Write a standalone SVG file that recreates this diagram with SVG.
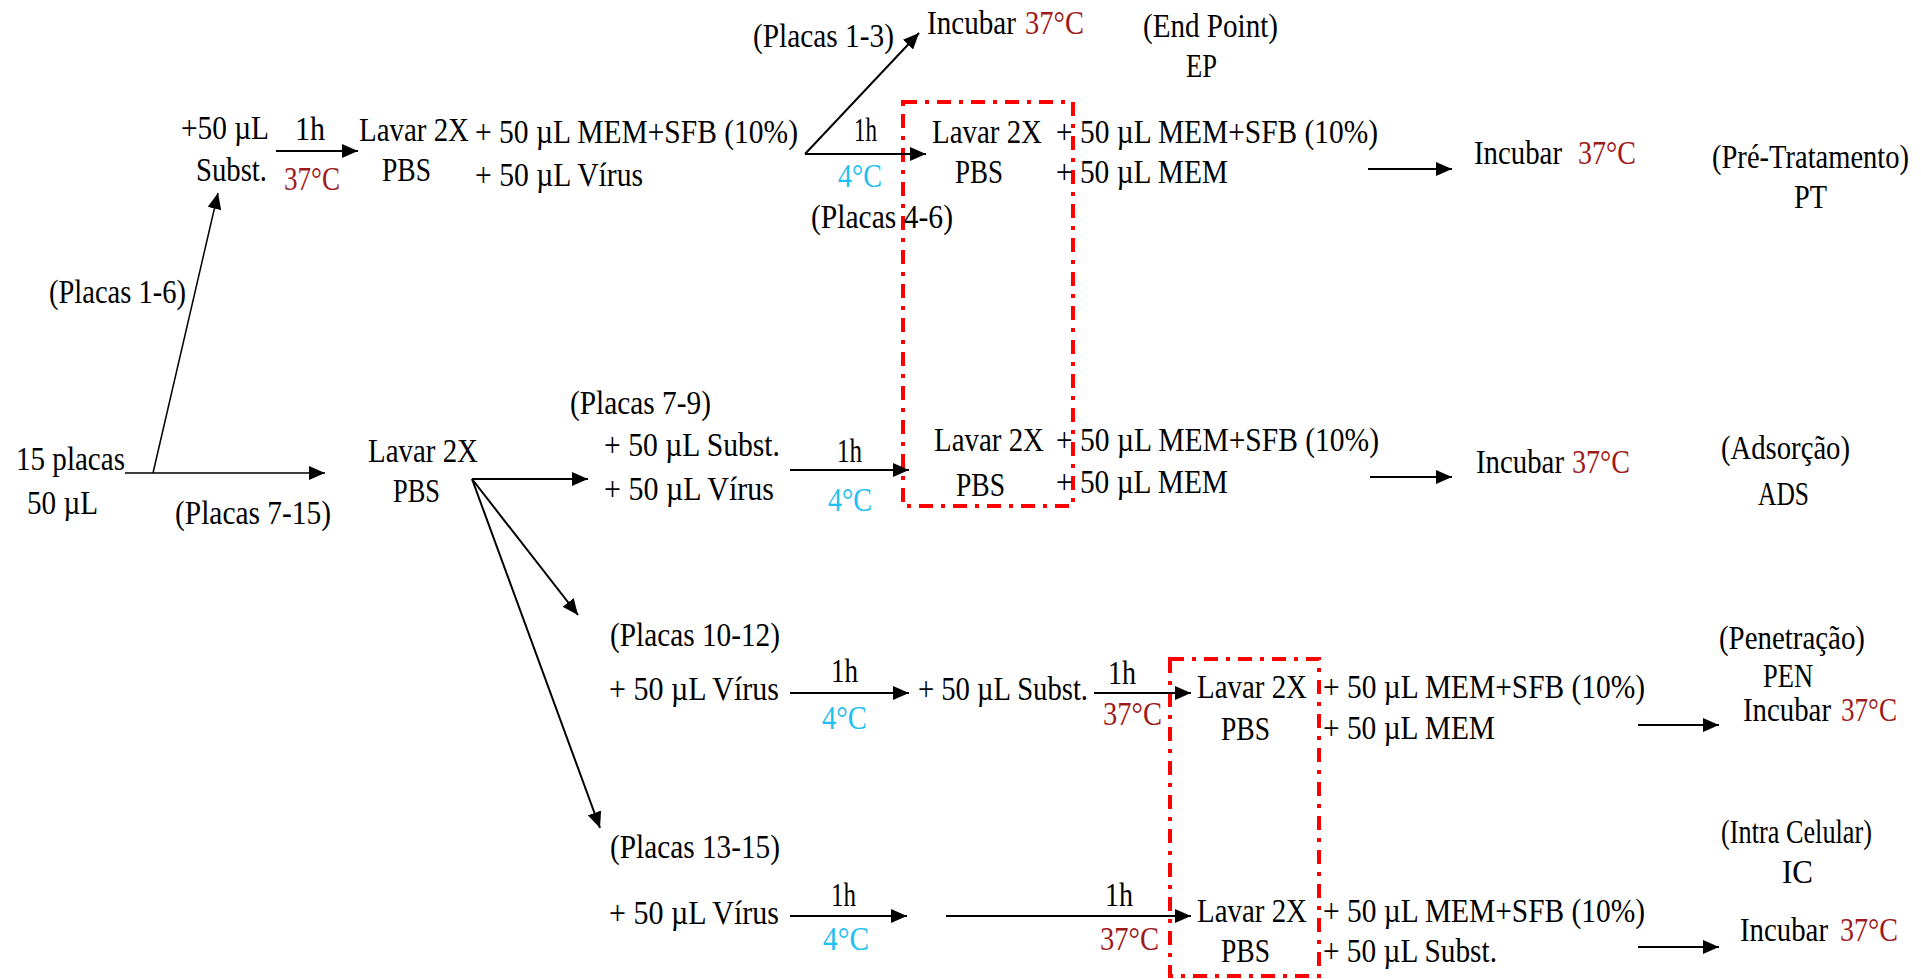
<svg xmlns="http://www.w3.org/2000/svg" width="1921" height="979" viewBox="0 0 1921 979">
<style>
text{font-family:"Liberation Serif","Times New Roman",serif;font-size:33px;fill:#000}
.r{fill:#9E1B1B}
.c{fill:#1CC0F2}
.ln{stroke:#000;stroke-width:2;fill:none}
.thin{stroke:#000;stroke-width:1.5;fill:none}
.box{fill:none;stroke:#FF0000;stroke-width:4;stroke-dasharray:14 8 4 8}
</style>
<defs>
<marker id="ah" markerUnits="userSpaceOnUse" markerWidth="16" markerHeight="14" refX="16" refY="7" orient="auto">
<path d="M0,0 L16,7 L0,14 z" fill="#000"/>
</marker>
</defs>
<rect width="1921" height="979" fill="#fff"/>

<g id="boxes">
<rect class="box" x="903" y="102" width="170" height="404"/>
<rect class="box" x="1170" y="659" width="149" height="317"/>
</g>

<g id="connectors">
<path class="thin" d="M125,473 H325" marker-end="url(#ah)"/>
<path class="thin" d="M153,473 L218,193" marker-end="url(#ah)"/>
<path class="ln" d="M276,151 H358" marker-end="url(#ah)"/>
<path class="ln" d="M805,154 L919,33" marker-end="url(#ah)"/>
<path class="ln" d="M805,154 H926" marker-end="url(#ah)"/>
<path class="ln" d="M1368,169 H1452" marker-end="url(#ah)"/>
<path class="ln" d="M472,479 H588" marker-end="url(#ah)"/>
<path class="ln" d="M472,479 L578,615" marker-end="url(#ah)"/>
<path class="ln" d="M472,479 L600,828" marker-end="url(#ah)"/>
<path class="ln" d="M790,470 H909" marker-end="url(#ah)"/>
<path class="ln" d="M1370,477 H1452" marker-end="url(#ah)"/>
<path class="ln" d="M790,693 H909" marker-end="url(#ah)"/>
<path class="ln" d="M1094,693 H1191" marker-end="url(#ah)"/>
<path class="ln" d="M1638,725 H1719" marker-end="url(#ah)"/>
<path class="ln" d="M790,916 H907" marker-end="url(#ah)"/>
<path class="ln" d="M946,916 H1191" marker-end="url(#ah)"/>
<path class="ln" d="M1638,947 H1719" marker-end="url(#ah)"/>
</g>

<g id="start">
<text x="16" y="470" textLength="109" lengthAdjust="spacingAndGlyphs">15 placas</text>
<text x="27" y="514" textLength="71" lengthAdjust="spacingAndGlyphs">50 µL</text>
</g>
<g id="label-placas-1-6"><text x="49" y="303" textLength="137" lengthAdjust="spacingAndGlyphs">(Placas 1-6)</text></g>
<g id="label-placas-7-15"><text x="175" y="524" textLength="156" lengthAdjust="spacingAndGlyphs">(Placas 7-15)</text></g>

<g id="pt-subst">
<text x="181" y="139" textLength="88" lengthAdjust="spacingAndGlyphs">+50 µL</text>
<text x="196" y="181" textLength="71" lengthAdjust="spacingAndGlyphs">Subst.</text>
</g>
<g id="pt-cond1">
<text x="295" y="140" textLength="30" lengthAdjust="spacingAndGlyphs">1h</text>
<text class="r" x="284" y="190" textLength="56" lengthAdjust="spacingAndGlyphs">37°C</text>
</g>
<g id="pt-lavar1">
<text x="359" y="141" textLength="110" lengthAdjust="spacingAndGlyphs">Lavar 2X</text>
<text x="382" y="181" textLength="49" lengthAdjust="spacingAndGlyphs">PBS</text>
</g>
<g id="pt-mem-virus">
<text x="475" y="143" textLength="323" lengthAdjust="spacingAndGlyphs">+ 50 µL MEM+SFB (10%)</text>
<text x="475" y="186" textLength="168" lengthAdjust="spacingAndGlyphs">+ 50 µL Vírus</text>
</g>
<g id="ep-label-placas"><text x="753" y="47" textLength="141" lengthAdjust="spacingAndGlyphs">(Placas 1-3)</text></g>
<g id="ep-incubar">
<text x="927" y="34" textLength="89" lengthAdjust="spacingAndGlyphs">Incubar</text>
<text class="r" x="1025" y="34" textLength="59" lengthAdjust="spacingAndGlyphs">37°C</text>
</g>
<g id="ep-title">
<text x="1143" y="37" textLength="135" lengthAdjust="spacingAndGlyphs">(End Point)</text>
<text x="1186" y="77" textLength="31" lengthAdjust="spacingAndGlyphs">EP</text>
</g>
<g id="pt-cond2">
<text x="854" y="141" textLength="23" lengthAdjust="spacingAndGlyphs">1h</text>
<text class="c" x="838" y="187" textLength="44" lengthAdjust="spacingAndGlyphs">4°C</text>
<text x="811" y="228" textLength="142" lengthAdjust="spacingAndGlyphs">(Placas 4-6)</text>
</g>
<g id="pt-lavar2">
<text x="932" y="143" textLength="110" lengthAdjust="spacingAndGlyphs">Lavar 2X</text>
<text x="955" y="183" textLength="48" lengthAdjust="spacingAndGlyphs">PBS</text>
</g>
<g id="pt-mem">
<text x="1056" y="143" textLength="322" lengthAdjust="spacingAndGlyphs">+ 50 µL MEM+SFB (10%)</text>
<text x="1056" y="183" textLength="172" lengthAdjust="spacingAndGlyphs">+ 50 µL MEM</text>
</g>
<g id="pt-incubar">
<text x="1474" y="164" textLength="88" lengthAdjust="spacingAndGlyphs">Incubar</text>
<text class="r" x="1578" y="164" textLength="58" lengthAdjust="spacingAndGlyphs">37°C</text>
</g>
<g id="pt-title">
<text transform="translate(1712,168) scale(0.865,1)" x="0" y="0">(Pré-Tratamento)</text>
<text x="1794" y="208" textLength="33" lengthAdjust="spacingAndGlyphs">PT</text>
</g>

<g id="lavar-main">
<text x="368" y="462" textLength="110" lengthAdjust="spacingAndGlyphs">Lavar 2X</text>
<text x="393" y="502" textLength="47" lengthAdjust="spacingAndGlyphs">PBS</text>
</g>

<g id="ads-add">
<text x="570" y="414" textLength="141" lengthAdjust="spacingAndGlyphs">(Placas 7-9)</text>
<text x="604" y="456" textLength="176" lengthAdjust="spacingAndGlyphs">+ 50 µL Subst.</text>
<text x="604" y="500" textLength="170" lengthAdjust="spacingAndGlyphs">+ 50 µL Vírus</text>
</g>
<g id="ads-cond">
<text x="837" y="462" textLength="25" lengthAdjust="spacingAndGlyphs">1h</text>
<text class="c" x="828" y="511" textLength="44" lengthAdjust="spacingAndGlyphs">4°C</text>
</g>
<g id="ads-lavar">
<text x="934" y="451" textLength="110" lengthAdjust="spacingAndGlyphs">Lavar 2X</text>
<text x="956" y="496" textLength="49" lengthAdjust="spacingAndGlyphs">PBS</text>
</g>
<g id="ads-mem">
<text x="1056" y="451" textLength="323" lengthAdjust="spacingAndGlyphs">+ 50 µL MEM+SFB (10%)</text>
<text x="1056" y="493" textLength="172" lengthAdjust="spacingAndGlyphs">+ 50 µL MEM</text>
</g>
<g id="ads-incubar">
<text x="1476" y="473" textLength="88" lengthAdjust="spacingAndGlyphs">Incubar</text>
<text class="r" x="1572" y="473" textLength="58" lengthAdjust="spacingAndGlyphs">37°C</text>
</g>
<g id="ads-title">
<text x="1721" y="459" textLength="129" lengthAdjust="spacingAndGlyphs">(Adsorção)</text>
<text x="1758" y="505" textLength="51" lengthAdjust="spacingAndGlyphs">ADS</text>
</g>

<g id="pen-virus">
<text x="610" y="646" textLength="170" lengthAdjust="spacingAndGlyphs">(Placas 10-12)</text>
<text x="609" y="700" textLength="170" lengthAdjust="spacingAndGlyphs">+ 50 µL Vírus</text>
</g>
<g id="pen-cond1">
<text x="831" y="682" textLength="27" lengthAdjust="spacingAndGlyphs">1h</text>
<text class="c" x="822" y="729" textLength="45" lengthAdjust="spacingAndGlyphs">4°C</text>
</g>
<g id="pen-subst"><text x="918" y="700" textLength="170" lengthAdjust="spacingAndGlyphs">+ 50 µL Subst.</text></g>
<g id="pen-cond2">
<text x="1108" y="684" textLength="28" lengthAdjust="spacingAndGlyphs">1h</text>
<text class="r" x="1103" y="725" textLength="59" lengthAdjust="spacingAndGlyphs">37°C</text>
</g>
<g id="pen-lavar">
<text x="1197" y="698" textLength="110" lengthAdjust="spacingAndGlyphs">Lavar 2X</text>
<text x="1221" y="740" textLength="49" lengthAdjust="spacingAndGlyphs">PBS</text>
</g>
<g id="pen-mem">
<text x="1323" y="698" textLength="322" lengthAdjust="spacingAndGlyphs">+ 50 µL MEM+SFB (10%)</text>
<text x="1323" y="739" textLength="172" lengthAdjust="spacingAndGlyphs">+ 50 µL MEM</text>
</g>
<g id="pen-title">
<text x="1719" y="649" textLength="146" lengthAdjust="spacingAndGlyphs">(Penetração)</text>
<text x="1763" y="687" textLength="50" lengthAdjust="spacingAndGlyphs">PEN</text>
</g>
<g id="pen-incubar">
<text x="1743" y="721" textLength="88" lengthAdjust="spacingAndGlyphs">Incubar</text>
<text class="r" x="1841" y="721" textLength="56" lengthAdjust="spacingAndGlyphs">37°C</text>
</g>

<g id="ic-virus">
<text x="610" y="858" textLength="170" lengthAdjust="spacingAndGlyphs">(Placas 13-15)</text>
<text x="609" y="924" textLength="170" lengthAdjust="spacingAndGlyphs">+ 50 µL Vírus</text>
</g>
<g id="ic-cond1">
<text x="831" y="906" textLength="25" lengthAdjust="spacingAndGlyphs">1h</text>
<text class="c" x="823" y="950" textLength="46" lengthAdjust="spacingAndGlyphs">4°C</text>
</g>
<g id="ic-cond2">
<text x="1105" y="906" textLength="28" lengthAdjust="spacingAndGlyphs">1h</text>
<text class="r" x="1100" y="950" textLength="59" lengthAdjust="spacingAndGlyphs">37°C</text>
</g>
<g id="ic-lavar">
<text x="1197" y="922" textLength="110" lengthAdjust="spacingAndGlyphs">Lavar 2X</text>
<text x="1221" y="962" textLength="49" lengthAdjust="spacingAndGlyphs">PBS</text>
</g>
<g id="ic-mem">
<text x="1323" y="922" textLength="322" lengthAdjust="spacingAndGlyphs">+ 50 µL MEM+SFB (10%)</text>
<text x="1323" y="962" textLength="174" lengthAdjust="spacingAndGlyphs">+ 50 µL Subst.</text>
</g>
<g id="ic-title">
<text x="1721" y="843" textLength="151" lengthAdjust="spacingAndGlyphs">(Intra Celular)</text>
<text x="1782" y="883" textLength="31" lengthAdjust="spacingAndGlyphs">IC</text>
</g>
<g id="ic-incubar">
<text x="1740" y="941" textLength="88" lengthAdjust="spacingAndGlyphs">Incubar</text>
<text class="r" x="1840" y="941" textLength="58" lengthAdjust="spacingAndGlyphs">37°C</text>
</g>
</svg>
